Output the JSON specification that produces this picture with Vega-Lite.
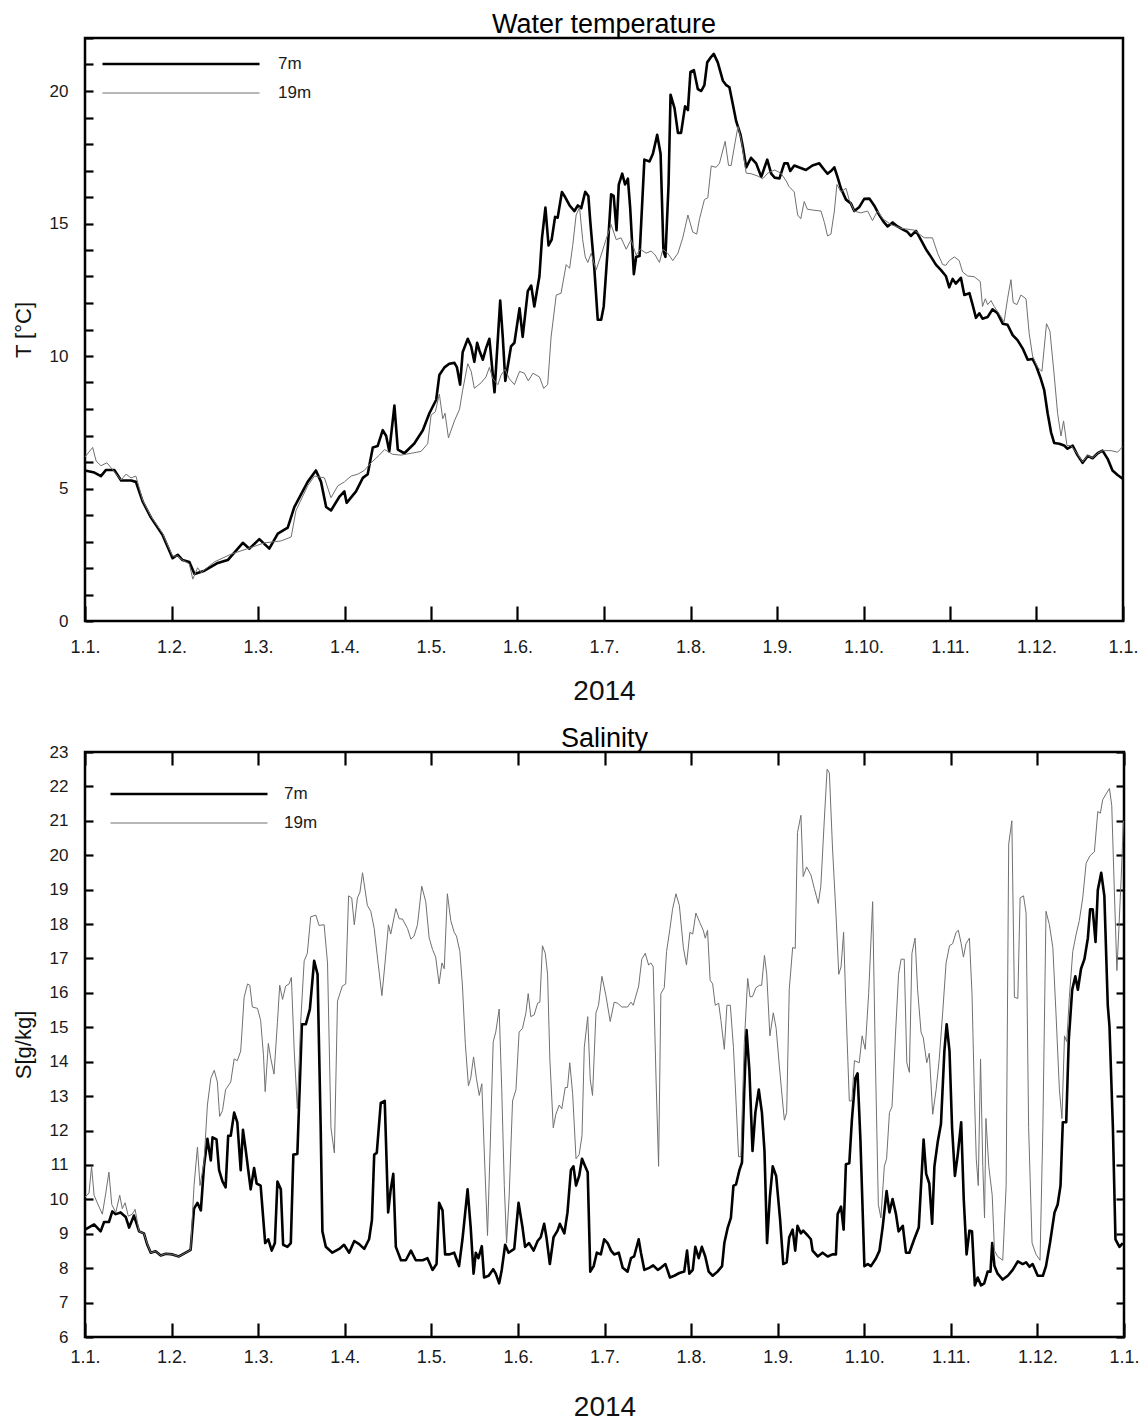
{
  "$schema": "https://vega.github.io/schema/vega-lite/v6.json",
  "background": "white",
  "padding": {"left": 10, "top": 9, "right": 5, "bottom": 0},
  "config": {
    "font": "Liberation Sans",
    "view": {"stroke": "#000", "strokeWidth": 2.5},
    "axis": {
      "grid": false, "domain": false, "ticks": true,
      "tickColor": "#000", "tickWidth": 2.2,
      "labelFont": "Liberation Sans", "labelFontSize": 17, "labelColor": "#1a1a1a",
      "labelFlush": false, "labelOverlap": false,
      "titleFont": "Liberation Sans", "titleFontWeight": "normal", "titleColor": "#111"
    },
    "legend": {
      "title": null, "orient": "none",
      "symbolType": "M-1,0H1", "symbolSize": 24650, "clipHeight": 22, "rowPadding": 7,
      "labelFontSize": 17, "labelColor": "#1a1a1a", "labelFont": "Liberation Sans"
    },
    "concat": {"spacing": 16},
    "line": {"strokeJoin": "round"}
  },
  "datasets": {
    "temperature": [
      {"day":0,"depth":"7m","value":5.68},{"day":3.3,"depth":"7m","value":5.6},{"day":5.6,"depth":"7m","value":5.47},{"day":7.4,"depth":"7m","value":5.7},{"day":10.3,"depth":"7m","value":5.7},{"day":12.7,"depth":"7m","value":5.3},{"day":16.2,"depth":"7m","value":5.3},{"day":17.9,"depth":"7m","value":5.25},{"day":20.3,"depth":"7m","value":4.5},{"day":23.2,"depth":"7m","value":3.9},{"day":27.3,"depth":"7m","value":3.24},{"day":30.8,"depth":"7m","value":2.37},{"day":32.6,"depth":"7m","value":2.5},{"day":34.3,"depth":"7m","value":2.3},{"day":36.7,"depth":"7m","value":2.23},{"day":38.5,"depth":"7m","value":1.77},{"day":42,"depth":"7m","value":1.9},{"day":46.7,"depth":"7m","value":2.19},{"day":50.2,"depth":"7m","value":2.3},{"day":55.5,"depth":"7m","value":2.95},{"day":57.8,"depth":"7m","value":2.73},{"day":61.3,"depth":"7m","value":3.09},{"day":64.8,"depth":"7m","value":2.73},{"day":67.8,"depth":"7m","value":3.3},{"day":71.3,"depth":"7m","value":3.52},{"day":73.6,"depth":"7m","value":4.3},{"day":78.3,"depth":"7m","value":5.25},{"day":81.2,"depth":"7m","value":5.68},{"day":83,"depth":"7m","value":5.25},{"day":84.8,"depth":"7m","value":4.3},{"day":86.5,"depth":"7m","value":4.17},{"day":89.4,"depth":"7m","value":4.68},{"day":91.2,"depth":"7m","value":4.89},{"day":92,"depth":"7m","value":4.46},{"day":95.3,"depth":"7m","value":4.89},{"day":97.7,"depth":"7m","value":5.4},{"day":99.4,"depth":"7m","value":5.54},{"day":101.2,"depth":"7m","value":6.55},{"day":102.9,"depth":"7m","value":6.6},{"day":104.7,"depth":"7m","value":7.2},{"day":105.9,"depth":"7m","value":6.98},{"day":107,"depth":"7m","value":6.4},{"day":108.8,"depth":"7m","value":8.13},{"day":110,"depth":"7m","value":6.47},{"day":112.3,"depth":"7m","value":6.33},{"day":115.8,"depth":"7m","value":6.7},{"day":118.8,"depth":"7m","value":7.2},{"day":121.1,"depth":"7m","value":7.84},{"day":123.5,"depth":"7m","value":8.35},{"day":124.6,"depth":"7m","value":9.28},{"day":126.4,"depth":"7m","value":9.57},{"day":128.1,"depth":"7m","value":9.71},{"day":129.9,"depth":"7m","value":9.74},{"day":130.8,"depth":"7m","value":9.57},{"day":131.9,"depth":"7m","value":8.92},{"day":132.8,"depth":"7m","value":10.14},{"day":134.6,"depth":"7m","value":10.65},{"day":135.8,"depth":"7m","value":10.36},{"day":136.9,"depth":"7m","value":9.78},{"day":137.9,"depth":"7m","value":10.5},{"day":138.7,"depth":"7m","value":10.2},{"day":139.9,"depth":"7m","value":9.86},{"day":141,"depth":"7m","value":10.29},{"day":142.2,"depth":"7m","value":10.65},{"day":144,"depth":"7m","value":8.63},{"day":146,"depth":"7m","value":12.09},{"day":146.9,"depth":"7m","value":10.72},{"day":147.8,"depth":"7m","value":9.06},{"day":149.8,"depth":"7m","value":10.36},{"day":151,"depth":"7m","value":10.5},{"day":152.8,"depth":"7m","value":11.8},{"day":153.9,"depth":"7m","value":10.72},{"day":155.7,"depth":"7m","value":12.45},{"day":156.9,"depth":"7m","value":12.66},{"day":158,"depth":"7m","value":11.87},{"day":159.8,"depth":"7m","value":13.02},{"day":160.7,"depth":"7m","value":14.46},{"day":161.9,"depth":"7m","value":15.6},{"day":163,"depth":"7m","value":14.17},{"day":164.1,"depth":"7m","value":14.39},{"day":165.3,"depth":"7m","value":15.25},{"day":166.2,"depth":"7m","value":15.22},{"day":167.7,"depth":"7m","value":16.19},{"day":168.6,"depth":"7m","value":16.04},{"day":170.4,"depth":"7m","value":15.68},{"day":172.1,"depth":"7m","value":15.47},{"day":173.3,"depth":"7m","value":15.68},{"day":174.5,"depth":"7m","value":15.58},{"day":175.9,"depth":"7m","value":16.2},{"day":177,"depth":"7m","value":16.04},{"day":177.7,"depth":"7m","value":15.04},{"day":179.1,"depth":"7m","value":13.3},{"day":180.3,"depth":"7m","value":11.37},{"day":181.5,"depth":"7m","value":11.37},{"day":182.4,"depth":"7m","value":11.87},{"day":183.8,"depth":"7m","value":14.03},{"day":185,"depth":"7m","value":16.1},{"day":185.9,"depth":"7m","value":16.04},{"day":186.9,"depth":"7m","value":14.75},{"day":187.7,"depth":"7m","value":16.47},{"day":188.9,"depth":"7m","value":16.88},{"day":189.9,"depth":"7m","value":16.47},{"day":190.9,"depth":"7m","value":16.69},{"day":191.7,"depth":"7m","value":15.6},{"day":193,"depth":"7m","value":13.09},{"day":193.8,"depth":"7m","value":13.74},{"day":195,"depth":"7m","value":13.77},{"day":196.7,"depth":"7m","value":17.41},{"day":198.5,"depth":"7m","value":17.34},{"day":199.7,"depth":"7m","value":17.63},{"day":201.2,"depth":"7m","value":18.35},{"day":202.4,"depth":"7m","value":17.63},{"day":203.4,"depth":"7m","value":13.96},{"day":204.1,"depth":"7m","value":13.74},{"day":205.2,"depth":"7m","value":16.47},{"day":205.9,"depth":"7m","value":19.86},{"day":207.3,"depth":"7m","value":19.35},{"day":208.5,"depth":"7m","value":18.42},{"day":209.6,"depth":"7m","value":18.42},{"day":211,"depth":"7m","value":19.42},{"day":212,"depth":"7m","value":19.28},{"day":212.9,"depth":"7m","value":20.72},{"day":214.1,"depth":"7m","value":20.79},{"day":215.5,"depth":"7m","value":20.07},{"day":216.7,"depth":"7m","value":20.0},{"day":217.8,"depth":"7m","value":20.22},{"day":218.8,"depth":"7m","value":21.08},{"day":220.2,"depth":"7m","value":21.29},{"day":221.1,"depth":"7m","value":21.4},{"day":222.5,"depth":"7m","value":21.08},{"day":224.3,"depth":"7m","value":20.39},{"day":225.5,"depth":"7m","value":20.22},{"day":226.6,"depth":"7m","value":20.14},{"day":227.8,"depth":"7m","value":19.5},{"day":229,"depth":"7m","value":18.85},{"day":230.5,"depth":"7m","value":18.35},{"day":231.3,"depth":"7m","value":17.91},{"day":232.5,"depth":"7m","value":17.12},{"day":234.2,"depth":"7m","value":17.48},{"day":236,"depth":"7m","value":17.27},{"day":237.8,"depth":"7m","value":16.76},{"day":239.9,"depth":"7m","value":17.41},{"day":241.3,"depth":"7m","value":16.88},{"day":242.5,"depth":"7m","value":16.73},{"day":244.2,"depth":"7m","value":16.7},{"day":245.9,"depth":"7m","value":17.27},{"day":247.1,"depth":"7m","value":17.27},{"day":248,"depth":"7m","value":16.98},{"day":249.4,"depth":"7m","value":17.19},{"day":251,"depth":"7m","value":17.12},{"day":253.5,"depth":"7m","value":17.02},{"day":255.8,"depth":"7m","value":17.19},{"day":258.2,"depth":"7m","value":17.27},{"day":260,"depth":"7m","value":17.02},{"day":261.1,"depth":"7m","value":16.88},{"day":262.3,"depth":"7m","value":16.98},{"day":263.5,"depth":"7m","value":17.12},{"day":264.6,"depth":"7m","value":16.76},{"day":265.8,"depth":"7m","value":16.33},{"day":267.6,"depth":"7m","value":15.9},{"day":269.3,"depth":"7m","value":15.76},{"day":270.5,"depth":"7m","value":15.47},{"day":272.2,"depth":"7m","value":15.61},{"day":274,"depth":"7m","value":15.93},{"day":275.8,"depth":"7m","value":15.94},{"day":277.5,"depth":"7m","value":15.68},{"day":279.3,"depth":"7m","value":15.32},{"day":281,"depth":"7m","value":15.04},{"day":282.2,"depth":"7m","value":14.89},{"day":284,"depth":"7m","value":15.04},{"day":285.7,"depth":"7m","value":14.89},{"day":287.5,"depth":"7m","value":14.78},{"day":289.2,"depth":"7m","value":14.68},{"day":290.4,"depth":"7m","value":14.53},{"day":292.2,"depth":"7m","value":14.72},{"day":293.9,"depth":"7m","value":14.39},{"day":295.7,"depth":"7m","value":14.03},{"day":297.5,"depth":"7m","value":13.74},{"day":299.2,"depth":"7m","value":13.45},{"day":301,"depth":"7m","value":13.24},{"day":302.7,"depth":"7m","value":13.02},{"day":303.9,"depth":"7m","value":12.59},{"day":305.1,"depth":"7m","value":12.91},{"day":306.2,"depth":"7m","value":12.73},{"day":308,"depth":"7m","value":12.95},{"day":309.2,"depth":"7m","value":12.3},{"day":311,"depth":"7m","value":12.37},{"day":312.1,"depth":"7m","value":11.94},{"day":313.3,"depth":"7m","value":11.44},{"day":314.5,"depth":"7m","value":11.61},{"day":315.6,"depth":"7m","value":11.41},{"day":317.4,"depth":"7m","value":11.47},{"day":319.1,"depth":"7m","value":11.76},{"day":320.9,"depth":"7m","value":11.61},{"day":322.7,"depth":"7m","value":11.22},{"day":324.4,"depth":"7m","value":11.18},{"day":326.2,"depth":"7m","value":10.79},{"day":327.9,"depth":"7m","value":10.6},{"day":329.7,"depth":"7m","value":10.29},{"day":331.5,"depth":"7m","value":9.86},{"day":333.2,"depth":"7m","value":9.89},{"day":334.4,"depth":"7m","value":9.64},{"day":336.1,"depth":"7m","value":9.14},{"day":337.3,"depth":"7m","value":8.71},{"day":338.5,"depth":"7m","value":7.84},{"day":339.7,"depth":"7m","value":7.12},{"day":340.8,"depth":"7m","value":6.72},{"day":342.6,"depth":"7m","value":6.69},{"day":344.3,"depth":"7m","value":6.62},{"day":345.5,"depth":"7m","value":6.5},{"day":347.3,"depth":"7m","value":6.62},{"day":349,"depth":"7m","value":6.26},{"day":350.8,"depth":"7m","value":5.97},{"day":352.6,"depth":"7m","value":6.23},{"day":354.3,"depth":"7m","value":6.14},{"day":356.1,"depth":"7m","value":6.33},{"day":357.8,"depth":"7m","value":6.43},{"day":359.6,"depth":"7m","value":6.12},{"day":361.3,"depth":"7m","value":5.68},{"day":363.1,"depth":"7m","value":5.51},{"day":364.9,"depth":"7m","value":5.37},
      {"day":0,"depth":"19m","value":6.19},{"day":2.7,"depth":"19m","value":6.55},{"day":3.9,"depth":"19m","value":6.04},{"day":5.6,"depth":"19m","value":5.86},{"day":7.7,"depth":"19m","value":5.97},{"day":9.7,"depth":"19m","value":5.71},{"day":12.7,"depth":"19m","value":5.32},{"day":14.4,"depth":"19m","value":5.54},{"day":16.2,"depth":"19m","value":5.4},{"day":17.9,"depth":"19m","value":5.47},{"day":20.3,"depth":"19m","value":4.55},{"day":23.2,"depth":"19m","value":3.95},{"day":27.3,"depth":"19m","value":3.3},{"day":30.8,"depth":"19m","value":2.45},{"day":32.6,"depth":"19m","value":2.45},{"day":34.3,"depth":"19m","value":2.3},{"day":36.7,"depth":"19m","value":2.15},{"day":37.9,"depth":"19m","value":1.58},{"day":39.6,"depth":"19m","value":2.01},{"day":40.8,"depth":"19m","value":1.83},{"day":45.5,"depth":"19m","value":2.23},{"day":51.3,"depth":"19m","value":2.52},{"day":57.2,"depth":"19m","value":2.73},{"day":63.1,"depth":"19m","value":2.95},{"day":68.9,"depth":"19m","value":3.02},{"day":72.5,"depth":"19m","value":3.17},{"day":74.2,"depth":"19m","value":4.17},{"day":78.3,"depth":"19m","value":5.1},{"day":80.7,"depth":"19m","value":5.47},{"day":84.2,"depth":"19m","value":5.4},{"day":86.5,"depth":"19m","value":4.65},{"day":88.9,"depth":"19m","value":5.1},{"day":91.2,"depth":"19m","value":5.25},{"day":93.6,"depth":"19m","value":5.47},{"day":95.9,"depth":"19m","value":5.54},{"day":98.2,"depth":"19m","value":5.68},{"day":100.6,"depth":"19m","value":5.97},{"day":103.5,"depth":"19m","value":6.26},{"day":105.3,"depth":"19m","value":6.47},{"day":108.2,"depth":"19m","value":6.29},{"day":111.1,"depth":"19m","value":6.26},{"day":114.7,"depth":"19m","value":6.33},{"day":118.2,"depth":"19m","value":6.4},{"day":120.5,"depth":"19m","value":6.69},{"day":121.7,"depth":"19m","value":7.77},{"day":123.2,"depth":"19m","value":7.9},{"day":124.6,"depth":"19m","value":8.56},{"day":125.8,"depth":"19m","value":7.63},{"day":126.6,"depth":"19m","value":7.84},{"day":127.8,"depth":"19m","value":6.91},{"day":129.9,"depth":"19m","value":7.55},{"day":131.7,"depth":"19m","value":7.99},{"day":132.8,"depth":"19m","value":8.71},{"day":134.6,"depth":"19m","value":9.71},{"day":135.8,"depth":"19m","value":9.42},{"day":136.9,"depth":"19m","value":8.78},{"day":139.3,"depth":"19m","value":8.99},{"day":141,"depth":"19m","value":9.21},{"day":142.2,"depth":"19m","value":9.57},{"day":143.4,"depth":"19m","value":9.14},{"day":145.2,"depth":"19m","value":8.92},{"day":146.3,"depth":"19m","value":9.28},{"day":147.7,"depth":"19m","value":9.5},{"day":149.2,"depth":"19m","value":9.14},{"day":151,"depth":"19m","value":8.92},{"day":152.8,"depth":"19m","value":9.42},{"day":154.5,"depth":"19m","value":9.35},{"day":155.9,"depth":"19m","value":9.06},{"day":157.5,"depth":"19m","value":9.35},{"day":159.8,"depth":"19m","value":9.21},{"day":161.3,"depth":"19m","value":8.78},{"day":162.7,"depth":"19m","value":8.92},{"day":163.9,"depth":"19m","value":10.72},{"day":165.7,"depth":"19m","value":12.3},{"day":167.4,"depth":"19m","value":12.37},{"day":169.2,"depth":"19m","value":13.45},{"day":170.4,"depth":"19m","value":13.31},{"day":171.5,"depth":"19m","value":14.17},{"day":172.7,"depth":"19m","value":15.32},{"day":173.9,"depth":"19m","value":15.61},{"day":175,"depth":"19m","value":14.39},{"day":175.9,"depth":"19m","value":13.74},{"day":176.8,"depth":"19m","value":13.53},{"day":178,"depth":"19m","value":13.88},{"day":179.7,"depth":"19m","value":13.24},{"day":181.5,"depth":"19m","value":13.81},{"day":183.2,"depth":"19m","value":14.39},{"day":185,"depth":"19m","value":14.96},{"day":186.8,"depth":"19m","value":14.39},{"day":188.5,"depth":"19m","value":14.46},{"day":190.3,"depth":"19m","value":14.03},{"day":192,"depth":"19m","value":14.39},{"day":193.8,"depth":"19m","value":13.81},{"day":195.3,"depth":"19m","value":14.03},{"day":197.3,"depth":"19m","value":13.88},{"day":199.1,"depth":"19m","value":13.96},{"day":200.5,"depth":"19m","value":13.81},{"day":202,"depth":"19m","value":13.53},{"day":203.2,"depth":"19m","value":14.03},{"day":204.9,"depth":"19m","value":13.88},{"day":206.7,"depth":"19m","value":13.6},{"day":208.5,"depth":"19m","value":13.88},{"day":210.2,"depth":"19m","value":14.46},{"day":212,"depth":"19m","value":15.32},{"day":213.7,"depth":"19m","value":14.68},{"day":215.1,"depth":"19m","value":14.6},{"day":216.1,"depth":"19m","value":15.18},{"day":217.8,"depth":"19m","value":15.9},{"day":219,"depth":"19m","value":15.97},{"day":220.2,"depth":"19m","value":17.17},{"day":221.9,"depth":"19m","value":17.12},{"day":223.1,"depth":"19m","value":17.27},{"day":225.1,"depth":"19m","value":18.1},{"day":226.3,"depth":"19m","value":17.19},{"day":227.2,"depth":"19m","value":17.19},{"day":228.6,"depth":"19m","value":18.06},{"day":229.6,"depth":"19m","value":18.66},{"day":230.7,"depth":"19m","value":18.2},{"day":232.5,"depth":"19m","value":16.9},{"day":234.2,"depth":"19m","value":16.88},{"day":236.6,"depth":"19m","value":16.79},{"day":238.3,"depth":"19m","value":16.69},{"day":240.1,"depth":"19m","value":16.9},{"day":242.5,"depth":"19m","value":17.02},{"day":244.7,"depth":"19m","value":16.9},{"day":246.6,"depth":"19m","value":16.6},{"day":247.5,"depth":"19m","value":16.4},{"day":249.4,"depth":"19m","value":16.19},{"day":250.6,"depth":"19m","value":15.32},{"day":251.7,"depth":"19m","value":15.18},{"day":252.9,"depth":"19m","value":15.83},{"day":254,"depth":"19m","value":15.54},{"day":256.4,"depth":"19m","value":15.5},{"day":258.8,"depth":"19m","value":15.47},{"day":260,"depth":"19m","value":15.04},{"day":261.1,"depth":"19m","value":14.53},{"day":262.3,"depth":"19m","value":14.6},{"day":263.5,"depth":"19m","value":15.47},{"day":264.4,"depth":"19m","value":16.47},{"day":265.8,"depth":"19m","value":16.19},{"day":267.6,"depth":"19m","value":16.33},{"day":268.7,"depth":"19m","value":15.9},{"day":270.5,"depth":"19m","value":15.47},{"day":272.8,"depth":"19m","value":15.4},{"day":275.2,"depth":"19m","value":15.47},{"day":276.9,"depth":"19m","value":15.11},{"day":278.7,"depth":"19m","value":15.47},{"day":280.5,"depth":"19m","value":15.18},{"day":283.4,"depth":"19m","value":14.96},{"day":286.9,"depth":"19m","value":14.82},{"day":291.6,"depth":"19m","value":14.75},{"day":295.1,"depth":"19m","value":14.46},{"day":298,"depth":"19m","value":14.46},{"day":299.8,"depth":"19m","value":13.88},{"day":301.6,"depth":"19m","value":13.45},{"day":302.7,"depth":"19m","value":13.42},{"day":303.9,"depth":"19m","value":13.6},{"day":305.7,"depth":"19m","value":13.74},{"day":307.4,"depth":"19m","value":13.6},{"day":308.6,"depth":"19m","value":13.17},{"day":310.4,"depth":"19m","value":13.02},{"day":312.7,"depth":"19m","value":12.99},{"day":314.8,"depth":"19m","value":12.81},{"day":315.6,"depth":"19m","value":11.87},{"day":316.6,"depth":"19m","value":12.16},{"day":317.4,"depth":"19m","value":11.94},{"day":318.6,"depth":"19m","value":12.09},{"day":319.7,"depth":"19m","value":11.87},{"day":321.5,"depth":"19m","value":11.58},{"day":323.2,"depth":"19m","value":11.29},{"day":324.4,"depth":"19m","value":12.16},{"day":325.6,"depth":"19m","value":12.88},{"day":326.4,"depth":"19m","value":12.01},{"day":327.7,"depth":"19m","value":11.94},{"day":329.1,"depth":"19m","value":12.3},{"day":330.9,"depth":"19m","value":12.16},{"day":332,"depth":"19m","value":10.86},{"day":333.2,"depth":"19m","value":10.0},{"day":335,"depth":"19m","value":9.57},{"day":336.5,"depth":"19m","value":9.42},{"day":338.1,"depth":"19m","value":11.22},{"day":339.3,"depth":"19m","value":10.94},{"day":340.8,"depth":"19m","value":9.28},{"day":342,"depth":"19m","value":7.84},{"day":343.2,"depth":"19m","value":6.98},{"day":344.1,"depth":"19m","value":7.55},{"day":345.3,"depth":"19m","value":6.62},{"day":346.7,"depth":"19m","value":6.62},{"day":349,"depth":"19m","value":6.3},{"day":350.8,"depth":"19m","value":6.0},{"day":352.6,"depth":"19m","value":6.25},{"day":354.3,"depth":"19m","value":6.15},{"day":356.1,"depth":"19m","value":6.33},{"day":357.8,"depth":"19m","value":6.43},{"day":360.8,"depth":"19m","value":6.43},{"day":363.1,"depth":"19m","value":6.37},{"day":364.9,"depth":"19m","value":6.58}
    ],
    "salinity": [
      {"day":0,"depth":"7m","value":9.12},{"day":3.2,"depth":"7m","value":9.27},{"day":5.5,"depth":"7m","value":9.07},{"day":6.7,"depth":"7m","value":9.34},{"day":8.4,"depth":"7m","value":9.34},{"day":9.6,"depth":"7m","value":9.65},{"day":10.8,"depth":"7m","value":9.57},{"day":12.5,"depth":"7m","value":9.62},{"day":14.3,"depth":"7m","value":9.49},{"day":15.5,"depth":"7m","value":9.18},{"day":17.2,"depth":"7m","value":9.53},{"day":19,"depth":"7m","value":9.07},{"day":20.7,"depth":"7m","value":9.01},{"day":21.9,"depth":"7m","value":8.68},{"day":23.1,"depth":"7m","value":8.45},{"day":24.8,"depth":"7m","value":8.49},{"day":26.6,"depth":"7m","value":8.37},{"day":28.4,"depth":"7m","value":8.42},{"day":30.7,"depth":"7m","value":8.4},{"day":33,"depth":"7m","value":8.34},{"day":35.4,"depth":"7m","value":8.45},{"day":37.1,"depth":"7m","value":8.53},{"day":38.3,"depth":"7m","value":9.73},{"day":39.5,"depth":"7m","value":9.9},{"day":40.7,"depth":"7m","value":9.68},{"day":41.8,"depth":"7m","value":10.96},{"day":43,"depth":"7m","value":11.76},{"day":44.2,"depth":"7m","value":11.13},{"day":44.8,"depth":"7m","value":11.8},{"day":46.2,"depth":"7m","value":11.74},{"day":47.1,"depth":"7m","value":10.85},{"day":48.3,"depth":"7m","value":10.52},{"day":49.4,"depth":"7m","value":10.35},{"day":50.3,"depth":"7m","value":11.85},{"day":51.2,"depth":"7m","value":11.85},{"day":52.4,"depth":"7m","value":12.52},{"day":53.5,"depth":"7m","value":12.24},{"day":54.7,"depth":"7m","value":10.85},{"day":55.5,"depth":"7m","value":12.02},{"day":56.5,"depth":"7m","value":11.41},{"day":58.2,"depth":"7m","value":10.29},{"day":59.4,"depth":"7m","value":10.91},{"day":60.3,"depth":"7m","value":10.46},{"day":61.7,"depth":"7m","value":10.4},{"day":63.3,"depth":"7m","value":8.73},{"day":64.4,"depth":"7m","value":8.84},{"day":65.6,"depth":"7m","value":8.51},{"day":66.7,"depth":"7m","value":8.73},{"day":67.6,"depth":"7m","value":10.52},{"day":68.8,"depth":"7m","value":10.29},{"day":69.6,"depth":"7m","value":8.68},{"day":71.1,"depth":"7m","value":8.62},{"day":72.3,"depth":"7m","value":8.73},{"day":73.2,"depth":"7m","value":11.3},{"day":74.6,"depth":"7m","value":11.32},{"day":76.2,"depth":"7m","value":15.09},{"day":77.6,"depth":"7m","value":15.09},{"day":79,"depth":"7m","value":15.53},{"day":80.5,"depth":"7m","value":16.93},{"day":81.7,"depth":"7m","value":16.54},{"day":82.8,"depth":"7m","value":12.08},{"day":83.4,"depth":"7m","value":9.07},{"day":84.6,"depth":"7m","value":8.62},{"day":86.9,"depth":"7m","value":8.45},{"day":89.3,"depth":"7m","value":8.56},{"day":91,"depth":"7m","value":8.68},{"day":92.8,"depth":"7m","value":8.45},{"day":94.6,"depth":"7m","value":8.79},{"day":96.3,"depth":"7m","value":8.7},{"day":98.1,"depth":"7m","value":8.56},{"day":99.8,"depth":"7m","value":8.84},{"day":100.8,"depth":"7m","value":9.4},{"day":101.6,"depth":"7m","value":11.3},{"day":102.5,"depth":"7m","value":11.35},{"day":103.9,"depth":"7m","value":12.8},{"day":105.3,"depth":"7m","value":12.86},{"day":106.5,"depth":"7m","value":9.62},{"day":107.4,"depth":"7m","value":10.29},{"day":108.3,"depth":"7m","value":10.74},{"day":109.2,"depth":"7m","value":8.62},{"day":111,"depth":"7m","value":8.23},{"day":112.7,"depth":"7m","value":8.23},{"day":114.5,"depth":"7m","value":8.51},{"day":116.2,"depth":"7m","value":8.23},{"day":118.6,"depth":"7m","value":8.23},{"day":120.3,"depth":"7m","value":8.29},{"day":122.1,"depth":"7m","value":7.95},{"day":123.5,"depth":"7m","value":8.12},{"day":124.4,"depth":"7m","value":9.9},{"day":125.6,"depth":"7m","value":9.68},{"day":126.5,"depth":"7m","value":8.4},{"day":127.9,"depth":"7m","value":8.4},{"day":129.7,"depth":"7m","value":8.45},{"day":131.4,"depth":"7m","value":8.06},{"day":132.6,"depth":"7m","value":8.84},{"day":134.4,"depth":"7m","value":10.29},{"day":135.5,"depth":"7m","value":9.18},{"day":136.5,"depth":"7m","value":7.84},{"day":137.3,"depth":"7m","value":8.45},{"day":138.2,"depth":"7m","value":8.29},{"day":139.4,"depth":"7m","value":8.64},{"day":140.2,"depth":"7m","value":7.73},{"day":141.8,"depth":"7m","value":7.78},{"day":143.4,"depth":"7m","value":7.97},{"day":144.3,"depth":"7m","value":7.84},{"day":145.5,"depth":"7m","value":7.56},{"day":146.4,"depth":"7m","value":7.95},{"day":147.6,"depth":"7m","value":8.68},{"day":148.8,"depth":"7m","value":8.45},{"day":150.8,"depth":"7m","value":8.56},{"day":152.3,"depth":"7m","value":9.9},{"day":153.7,"depth":"7m","value":9.18},{"day":154.6,"depth":"7m","value":8.62},{"day":156,"depth":"7m","value":8.73},{"day":157.6,"depth":"7m","value":8.51},{"day":159,"depth":"7m","value":8.79},{"day":160.1,"depth":"7m","value":8.9},{"day":161.3,"depth":"7m","value":9.29},{"day":162.1,"depth":"7m","value":8.9},{"day":163.3,"depth":"7m","value":8.12},{"day":164.6,"depth":"7m","value":8.9},{"day":166,"depth":"7m","value":9.09},{"day":166.8,"depth":"7m","value":9.29},{"day":168.4,"depth":"7m","value":9.01},{"day":169.5,"depth":"7m","value":9.62},{"day":170.7,"depth":"7m","value":10.85},{"day":171.6,"depth":"7m","value":10.96},{"day":172.5,"depth":"7m","value":10.4},{"day":173.6,"depth":"7m","value":10.68},{"day":174.6,"depth":"7m","value":11.18},{"day":175.4,"depth":"7m","value":11.02},{"day":176.6,"depth":"7m","value":10.79},{"day":177.5,"depth":"7m","value":7.9},{"day":178.7,"depth":"7m","value":8.06},{"day":179.8,"depth":"7m","value":8.45},{"day":181.2,"depth":"7m","value":8.4},{"day":182.4,"depth":"7m","value":8.84},{"day":183.6,"depth":"7m","value":8.73},{"day":184.8,"depth":"7m","value":8.51},{"day":185.9,"depth":"7m","value":8.4},{"day":187.5,"depth":"7m","value":8.45},{"day":188.9,"depth":"7m","value":8.01},{"day":190.6,"depth":"7m","value":7.9},{"day":191.8,"depth":"7m","value":8.29},{"day":192.9,"depth":"7m","value":8.34},{"day":194.5,"depth":"7m","value":8.84},{"day":195.3,"depth":"7m","value":8.45},{"day":196.5,"depth":"7m","value":7.95},{"day":198.2,"depth":"7m","value":8.01},{"day":199.6,"depth":"7m","value":8.08},{"day":201.2,"depth":"7m","value":7.95},{"day":202.3,"depth":"7m","value":8.01},{"day":203.9,"depth":"7m","value":8.12},{"day":205.5,"depth":"7m","value":7.73},{"day":207,"depth":"7m","value":7.78},{"day":208.8,"depth":"7m","value":7.86},{"day":210.5,"depth":"7m","value":7.9},{"day":211.5,"depth":"7m","value":8.51},{"day":212.3,"depth":"7m","value":7.84},{"day":213.5,"depth":"7m","value":7.95},{"day":214.4,"depth":"7m","value":8.62},{"day":215.6,"depth":"7m","value":8.29},{"day":216.7,"depth":"7m","value":8.62},{"day":217.9,"depth":"7m","value":8.34},{"day":219.1,"depth":"7m","value":7.9},{"day":220.5,"depth":"7m","value":7.78},{"day":222.2,"depth":"7m","value":7.9},{"day":223.8,"depth":"7m","value":8.06},{"day":224.6,"depth":"7m","value":8.73},{"day":225.8,"depth":"7m","value":9.18},{"day":226.9,"depth":"7m","value":9.46},{"day":227.8,"depth":"7m","value":10.4},{"day":228.7,"depth":"7m","value":10.43},{"day":229.9,"depth":"7m","value":10.85},{"day":230.8,"depth":"7m","value":11.07},{"day":231.6,"depth":"7m","value":13.19},{"day":232.4,"depth":"7m","value":14.92},{"day":233.4,"depth":"7m","value":13.75},{"day":234.5,"depth":"7m","value":11.41},{"day":235.5,"depth":"7m","value":12.52},{"day":236.7,"depth":"7m","value":13.19},{"day":237.8,"depth":"7m","value":12.52},{"day":238.7,"depth":"7m","value":11.41},{"day":239.6,"depth":"7m","value":8.73},{"day":240.6,"depth":"7m","value":10.07},{"day":241.6,"depth":"7m","value":10.96},{"day":242.8,"depth":"7m","value":10.68},{"day":244.2,"depth":"7m","value":9.4},{"day":245.3,"depth":"7m","value":8.12},{"day":246.5,"depth":"7m","value":8.17},{"day":247.4,"depth":"7m","value":8.9},{"day":248.6,"depth":"7m","value":9.12},{"day":249.5,"depth":"7m","value":8.51},{"day":250.3,"depth":"7m","value":9.23},{"day":251.5,"depth":"7m","value":9.01},{"day":252.3,"depth":"7m","value":9.09},{"day":253.9,"depth":"7m","value":8.95},{"day":255,"depth":"7m","value":8.84},{"day":255.6,"depth":"7m","value":8.51},{"day":257.4,"depth":"7m","value":8.34},{"day":259.1,"depth":"7m","value":8.45},{"day":260.9,"depth":"7m","value":8.34},{"day":262.6,"depth":"7m","value":8.4},{"day":263.8,"depth":"7m","value":8.4},{"day":264.4,"depth":"7m","value":9.57},{"day":265.6,"depth":"7m","value":9.79},{"day":266.5,"depth":"7m","value":9.12},{"day":267.3,"depth":"7m","value":11.02},{"day":268.5,"depth":"7m","value":11.05},{"day":269.4,"depth":"7m","value":12.3},{"day":270.6,"depth":"7m","value":13.52},{"day":271.4,"depth":"7m","value":13.66},{"day":272.4,"depth":"7m","value":11.74},{"day":273.8,"depth":"7m","value":8.06},{"day":275,"depth":"7m","value":8.12},{"day":276.1,"depth":"7m","value":8.06},{"day":277.9,"depth":"7m","value":8.29},{"day":279.1,"depth":"7m","value":8.51},{"day":280.2,"depth":"7m","value":9.18},{"day":281.6,"depth":"7m","value":10.24},{"day":282.6,"depth":"7m","value":9.62},{"day":283.7,"depth":"7m","value":10.01},{"day":284.9,"depth":"7m","value":9.57},{"day":285.8,"depth":"7m","value":9.07},{"day":287.3,"depth":"7m","value":9.23},{"day":288.4,"depth":"7m","value":8.45},{"day":289.6,"depth":"7m","value":8.45},{"day":291.3,"depth":"7m","value":8.84},{"day":292.9,"depth":"7m","value":9.18},{"day":293.7,"depth":"7m","value":10.4},{"day":294.6,"depth":"7m","value":11.74},{"day":295.5,"depth":"7m","value":10.74},{"day":296.6,"depth":"7m","value":10.46},{"day":297.6,"depth":"7m","value":9.29},{"day":298.4,"depth":"7m","value":10.96},{"day":299.6,"depth":"7m","value":11.69},{"day":300.7,"depth":"7m","value":12.19},{"day":301.9,"depth":"7m","value":14.31},{"day":302.7,"depth":"7m","value":15.09},{"day":303.7,"depth":"7m","value":14.31},{"day":304.6,"depth":"7m","value":12.08},{"day":305.6,"depth":"7m","value":10.68},{"day":306.6,"depth":"7m","value":11.3},{"day":307.8,"depth":"7m","value":12.24},{"day":308.7,"depth":"7m","value":10.01},{"day":309.7,"depth":"7m","value":8.4},{"day":310.7,"depth":"7m","value":9.09},{"day":311.6,"depth":"7m","value":9.07},{"day":312.6,"depth":"7m","value":7.5},{"day":313.6,"depth":"7m","value":7.73},{"day":314.8,"depth":"7m","value":7.5},{"day":315.9,"depth":"7m","value":7.56},{"day":317.1,"depth":"7m","value":7.9},{"day":318.1,"depth":"7m","value":7.9},{"day":318.7,"depth":"7m","value":8.73},{"day":319.5,"depth":"7m","value":8.06},{"day":320.6,"depth":"7m","value":7.84},{"day":322.4,"depth":"7m","value":7.67},{"day":324.2,"depth":"7m","value":7.78},{"day":325.9,"depth":"7m","value":7.95},{"day":327.7,"depth":"7m","value":8.2},{"day":329.4,"depth":"7m","value":8.12},{"day":330.6,"depth":"7m","value":8.17},{"day":331.8,"depth":"7m","value":8.04},{"day":332.9,"depth":"7m","value":8.12},{"day":334.7,"depth":"7m","value":7.78},{"day":336.5,"depth":"7m","value":7.78},{"day":337.6,"depth":"7m","value":8.06},{"day":339,"depth":"7m","value":8.73},{"day":340.6,"depth":"7m","value":9.62},{"day":341.7,"depth":"7m","value":9.85},{"day":342.7,"depth":"7m","value":10.4},{"day":343.5,"depth":"7m","value":12.24},{"day":344.7,"depth":"7m","value":12.24},{"day":345.6,"depth":"7m","value":14.64},{"day":346.8,"depth":"7m","value":16.09},{"day":347.9,"depth":"7m","value":16.48},{"day":348.8,"depth":"7m","value":16.09},{"day":349.9,"depth":"7m","value":16.7},{"day":351.1,"depth":"7m","value":16.98},{"day":352.3,"depth":"7m","value":17.59},{"day":353.1,"depth":"7m","value":18.43},{"day":354,"depth":"7m","value":18.43},{"day":355,"depth":"7m","value":17.48},{"day":355.8,"depth":"7m","value":18.99},{"day":357,"depth":"7m","value":19.49},{"day":358.1,"depth":"7m","value":18.82},{"day":359.3,"depth":"7m","value":15.64},{"day":359.9,"depth":"7m","value":15.03},{"day":361.1,"depth":"7m","value":12.08},{"day":362,"depth":"7m","value":8.84},{"day":363.4,"depth":"7m","value":8.62},{"day":364.6,"depth":"7m","value":8.73},
      {"day":0,"depth":"19m","value":10.07},{"day":1.4,"depth":"19m","value":10.18},{"day":2.3,"depth":"19m","value":10.96},{"day":3.2,"depth":"19m","value":10.12},{"day":4.3,"depth":"19m","value":9.9},{"day":6.1,"depth":"19m","value":9.57},{"day":7.3,"depth":"19m","value":10.18},{"day":8.4,"depth":"19m","value":10.79},{"day":9.4,"depth":"19m","value":9.85},{"day":10.8,"depth":"19m","value":9.62},{"day":12.2,"depth":"19m","value":10.12},{"day":13.1,"depth":"19m","value":9.73},{"day":14.1,"depth":"19m","value":9.9},{"day":15.2,"depth":"19m","value":9.51},{"day":16.6,"depth":"19m","value":9.57},{"day":17.6,"depth":"19m","value":9.71},{"day":19,"depth":"19m","value":9.07},{"day":20.7,"depth":"19m","value":9.01},{"day":21.9,"depth":"19m","value":8.7},{"day":23.1,"depth":"19m","value":8.45},{"day":24.8,"depth":"19m","value":8.49},{"day":26.6,"depth":"19m","value":8.37},{"day":28.4,"depth":"19m","value":8.42},{"day":30.7,"depth":"19m","value":8.4},{"day":33,"depth":"19m","value":8.34},{"day":35.4,"depth":"19m","value":8.45},{"day":37.1,"depth":"19m","value":8.53},{"day":38.3,"depth":"19m","value":10.4},{"day":39.5,"depth":"19m","value":11.52},{"day":40.4,"depth":"19m","value":10.4},{"day":41.8,"depth":"19m","value":11.07},{"day":43,"depth":"19m","value":12.74},{"day":44.2,"depth":"19m","value":13.52},{"day":45.4,"depth":"19m","value":13.75},{"day":46.5,"depth":"19m","value":13.41},{"day":47.3,"depth":"19m","value":12.41},{"day":48.3,"depth":"19m","value":12.58},{"day":49.4,"depth":"19m","value":13.19},{"day":51.2,"depth":"19m","value":13.41},{"day":52.4,"depth":"19m","value":14.08},{"day":53.5,"depth":"19m","value":14.03},{"day":54.7,"depth":"19m","value":14.31},{"day":55.9,"depth":"19m","value":15.87},{"day":57.1,"depth":"19m","value":16.26},{"day":57.9,"depth":"19m","value":16.22},{"day":58.8,"depth":"19m","value":15.59},{"day":60.6,"depth":"19m","value":15.55},{"day":61.7,"depth":"19m","value":15.2},{"day":62.7,"depth":"19m","value":14.19},{"day":63.3,"depth":"19m","value":13.13},{"day":64.4,"depth":"19m","value":14.53},{"day":65.3,"depth":"19m","value":14.08},{"day":66.4,"depth":"19m","value":13.64},{"day":67.6,"depth":"19m","value":15.14},{"day":68.4,"depth":"19m","value":16.22},{"day":69.4,"depth":"19m","value":15.81},{"day":70.5,"depth":"19m","value":16.2},{"day":71.7,"depth":"19m","value":16.26},{"day":72.5,"depth":"19m","value":16.45},{"day":73.5,"depth":"19m","value":14.31},{"day":74.6,"depth":"19m","value":12.63},{"day":75.8,"depth":"19m","value":15.2},{"day":77,"depth":"19m","value":16.93},{"day":78.1,"depth":"19m","value":17.15},{"day":79.3,"depth":"19m","value":18.21},{"day":81.1,"depth":"19m","value":18.26},{"day":82.2,"depth":"19m","value":17.96},{"day":84,"depth":"19m","value":17.98},{"day":85.2,"depth":"19m","value":16.87},{"day":86.4,"depth":"19m","value":12.08},{"day":87.6,"depth":"19m","value":11.35},{"day":88.7,"depth":"19m","value":15.76},{"day":90.4,"depth":"19m","value":16.2},{"day":91.6,"depth":"19m","value":16.26},{"day":92.6,"depth":"19m","value":18.82},{"day":93.7,"depth":"19m","value":18.76},{"day":94.6,"depth":"19m","value":17.98},{"day":95.7,"depth":"19m","value":18.76},{"day":96.6,"depth":"19m","value":18.93},{"day":97.5,"depth":"19m","value":19.49},{"day":99.2,"depth":"19m","value":18.54},{"day":100.4,"depth":"19m","value":18.37},{"day":101.6,"depth":"19m","value":17.87},{"day":102.8,"depth":"19m","value":16.98},{"day":104.3,"depth":"19m","value":15.92},{"day":105.4,"depth":"19m","value":16.87},{"day":106.6,"depth":"19m","value":17.98},{"day":107.4,"depth":"19m","value":17.71},{"day":109.2,"depth":"19m","value":18.45},{"day":110.4,"depth":"19m","value":18.15},{"day":111.5,"depth":"19m","value":18.15},{"day":113.3,"depth":"19m","value":17.87},{"day":114.5,"depth":"19m","value":17.56},{"day":115.6,"depth":"19m","value":17.65},{"day":116.8,"depth":"19m","value":17.98},{"day":118.3,"depth":"19m","value":19.1},{"day":119.7,"depth":"19m","value":18.65},{"day":120.9,"depth":"19m","value":17.6},{"day":122.1,"depth":"19m","value":17.26},{"day":123.2,"depth":"19m","value":17.04},{"day":124.4,"depth":"19m","value":16.26},{"day":125.4,"depth":"19m","value":16.87},{"day":126.2,"depth":"19m","value":16.7},{"day":127.3,"depth":"19m","value":18.88},{"day":128.5,"depth":"19m","value":18.1},{"day":129.7,"depth":"19m","value":17.76},{"day":130.5,"depth":"19m","value":17.65},{"day":131.7,"depth":"19m","value":17.2},{"day":132.6,"depth":"19m","value":16.2},{"day":133.6,"depth":"19m","value":14.53},{"day":134.7,"depth":"19m","value":13.3},{"day":135.5,"depth":"19m","value":13.52},{"day":136.5,"depth":"19m","value":14.14},{"day":137.5,"depth":"19m","value":13.52},{"day":138.5,"depth":"19m","value":13.02},{"day":139.4,"depth":"19m","value":13.36},{"day":140.2,"depth":"19m","value":11.52},{"day":141.4,"depth":"19m","value":8.95},{"day":142.3,"depth":"19m","value":11.41},{"day":143.4,"depth":"19m","value":14.58},{"day":144.3,"depth":"19m","value":14.86},{"day":145.5,"depth":"19m","value":15.53},{"day":146.4,"depth":"19m","value":13.19},{"day":147.3,"depth":"19m","value":10.4},{"day":148.1,"depth":"19m","value":8.73},{"day":149,"depth":"19m","value":10.07},{"day":150.2,"depth":"19m","value":12.86},{"day":151.4,"depth":"19m","value":13.19},{"day":152.5,"depth":"19m","value":14.86},{"day":153.7,"depth":"19m","value":14.97},{"day":154.9,"depth":"19m","value":15.42},{"day":155.7,"depth":"19m","value":15.98},{"day":156.6,"depth":"19m","value":15.31},{"day":157.8,"depth":"19m","value":15.36},{"day":159,"depth":"19m","value":15.7},{"day":159.8,"depth":"19m","value":15.73},{"day":160.7,"depth":"19m","value":17.37},{"day":161.7,"depth":"19m","value":17.15},{"day":162.5,"depth":"19m","value":16.54},{"day":163.3,"depth":"19m","value":14.08},{"day":164.5,"depth":"19m","value":12.08},{"day":165.4,"depth":"19m","value":12.47},{"day":166.6,"depth":"19m","value":12.74},{"day":167.5,"depth":"19m","value":12.63},{"day":168.7,"depth":"19m","value":13.25},{"day":169.5,"depth":"19m","value":13.25},{"day":170.3,"depth":"19m","value":13.97},{"day":171.3,"depth":"19m","value":13.08},{"day":172.5,"depth":"19m","value":11.18},{"day":173.6,"depth":"19m","value":11.3},{"day":174.6,"depth":"19m","value":11.85},{"day":175.4,"depth":"19m","value":14.42},{"day":176.6,"depth":"19m","value":15.31},{"day":177.5,"depth":"19m","value":13.47},{"day":178.3,"depth":"19m","value":13.02},{"day":179.5,"depth":"19m","value":15.42},{"day":180.4,"depth":"19m","value":15.64},{"day":181.6,"depth":"19m","value":16.48},{"day":183,"depth":"19m","value":15.92},{"day":184.5,"depth":"19m","value":15.17},{"day":185.9,"depth":"19m","value":15.73},{"day":187.1,"depth":"19m","value":15.7},{"day":188.6,"depth":"19m","value":15.59},{"day":190.6,"depth":"19m","value":15.59},{"day":191.8,"depth":"19m","value":15.73},{"day":192.6,"depth":"19m","value":15.64},{"day":194.5,"depth":"19m","value":16.2},{"day":195.6,"depth":"19m","value":16.98},{"day":196.8,"depth":"19m","value":17.15},{"day":198,"depth":"19m","value":16.81},{"day":198.8,"depth":"19m","value":16.87},{"day":199.6,"depth":"19m","value":16.76},{"day":200.6,"depth":"19m","value":13.52},{"day":201.5,"depth":"19m","value":10.96},{"day":202.3,"depth":"19m","value":15.98},{"day":203.5,"depth":"19m","value":16.15},{"day":204.3,"depth":"19m","value":17.2},{"day":205.5,"depth":"19m","value":17.87},{"day":206.4,"depth":"19m","value":18.43},{"day":207.6,"depth":"19m","value":18.88},{"day":208.8,"depth":"19m","value":18.54},{"day":210.2,"depth":"19m","value":17.32},{"day":211.3,"depth":"19m","value":16.81},{"day":212.5,"depth":"19m","value":17.76},{"day":213.5,"depth":"19m","value":17.71},{"day":214.6,"depth":"19m","value":18.32},{"day":216,"depth":"19m","value":18.04},{"day":217.2,"depth":"19m","value":17.82},{"day":217.9,"depth":"19m","value":17.59},{"day":218.7,"depth":"19m","value":17.82},{"day":219.6,"depth":"19m","value":16.37},{"day":220.5,"depth":"19m","value":16.26},{"day":221.4,"depth":"19m","value":15.64},{"day":222.6,"depth":"19m","value":15.7},{"day":223.4,"depth":"19m","value":15.2},{"day":224.6,"depth":"19m","value":14.36},{"day":225.5,"depth":"19m","value":15.64},{"day":226.7,"depth":"19m","value":15.64},{"day":227.8,"depth":"19m","value":14.42},{"day":228.7,"depth":"19m","value":12.86},{"day":229.6,"depth":"19m","value":11.24},{"day":230.4,"depth":"19m","value":11.24},{"day":231.6,"depth":"19m","value":14.53},{"day":232.8,"depth":"19m","value":16.42},{"day":233.6,"depth":"19m","value":15.89},{"day":234.5,"depth":"19m","value":15.89},{"day":235.7,"depth":"19m","value":16.15},{"day":236.9,"depth":"19m","value":16.22},{"day":237.7,"depth":"19m","value":16.22},{"day":238.7,"depth":"19m","value":17.09},{"day":239.5,"depth":"19m","value":16.54},{"day":240.6,"depth":"19m","value":14.75},{"day":241.8,"depth":"19m","value":15.42},{"day":242.8,"depth":"19m","value":14.97},{"day":243.9,"depth":"19m","value":13.9},{"day":245.1,"depth":"19m","value":12.8},{"day":245.7,"depth":"19m","value":12.3},{"day":246.5,"depth":"19m","value":12.52},{"day":247.4,"depth":"19m","value":16.09},{"day":248.6,"depth":"19m","value":17.32},{"day":249.5,"depth":"19m","value":17.29},{"day":250.3,"depth":"19m","value":20.66},{"day":251.5,"depth":"19m","value":21.16},{"day":252.3,"depth":"19m","value":19.38},{"day":253.5,"depth":"19m","value":19.66},{"day":255,"depth":"19m","value":19.43},{"day":256.2,"depth":"19m","value":19.04},{"day":257.6,"depth":"19m","value":18.6},{"day":258.5,"depth":"19m","value":19.1},{"day":259.7,"depth":"19m","value":21.0},{"day":260.7,"depth":"19m","value":22.5},{"day":261.5,"depth":"19m","value":22.39},{"day":262.6,"depth":"19m","value":20.21},{"day":263.8,"depth":"19m","value":18.32},{"day":264.8,"depth":"19m","value":16.54},{"day":265.6,"depth":"19m","value":16.76},{"day":266.5,"depth":"19m","value":17.76},{"day":267.3,"depth":"19m","value":15.64},{"day":268.5,"depth":"19m","value":12.86},{"day":269.4,"depth":"19m","value":12.86},{"day":270.3,"depth":"19m","value":14.03},{"day":272,"depth":"19m","value":13.97},{"day":273,"depth":"19m","value":14.75},{"day":274.1,"depth":"19m","value":14.36},{"day":275.3,"depth":"19m","value":15.98},{"day":276.7,"depth":"19m","value":18.65},{"day":277.6,"depth":"19m","value":14.31},{"day":278.7,"depth":"19m","value":9.85},{"day":279.6,"depth":"19m","value":9.46},{"day":280.8,"depth":"19m","value":10.96},{"day":281.6,"depth":"19m","value":11.18},{"day":282.6,"depth":"19m","value":12.52},{"day":283.5,"depth":"19m","value":12.69},{"day":284.7,"depth":"19m","value":14.75},{"day":285.8,"depth":"19m","value":16.54},{"day":286.7,"depth":"19m","value":16.98},{"day":287.8,"depth":"19m","value":16.98},{"day":288.7,"depth":"19m","value":13.97},{"day":289.6,"depth":"19m","value":13.69},{"day":290.5,"depth":"19m","value":17.15},{"day":291.6,"depth":"19m","value":17.59},{"day":292.5,"depth":"19m","value":16.09},{"day":293.7,"depth":"19m","value":14.86},{"day":294.5,"depth":"19m","value":14.69},{"day":295.7,"depth":"19m","value":13.97},{"day":296.6,"depth":"19m","value":14.25},{"day":297.8,"depth":"19m","value":12.47},{"day":299,"depth":"19m","value":13.19},{"day":300.1,"depth":"19m","value":14.08},{"day":301.3,"depth":"19m","value":15.42},{"day":302.5,"depth":"19m","value":16.87},{"day":303.7,"depth":"19m","value":17.37},{"day":304.8,"depth":"19m","value":17.43},{"day":306,"depth":"19m","value":17.76},{"day":306.8,"depth":"19m","value":17.82},{"day":307.8,"depth":"19m","value":17.43},{"day":308.6,"depth":"19m","value":17.04},{"day":309.5,"depth":"19m","value":17.43},{"day":310.7,"depth":"19m","value":17.59},{"day":311.6,"depth":"19m","value":15.98},{"day":312.4,"depth":"19m","value":13.19},{"day":313.1,"depth":"19m","value":11.18},{"day":313.8,"depth":"19m","value":10.4},{"day":314.6,"depth":"19m","value":14.08},{"day":315.4,"depth":"19m","value":10.96},{"day":316,"depth":"19m","value":9.46},{"day":316.5,"depth":"19m","value":12.35},{"day":317.5,"depth":"19m","value":10.96},{"day":318.7,"depth":"19m","value":10.12},{"day":319.5,"depth":"19m","value":8.51},{"day":320.6,"depth":"19m","value":8.34},{"day":322.4,"depth":"19m","value":8.23},{"day":323.6,"depth":"19m","value":10.4},{"day":324.5,"depth":"19m","value":20.33},{"day":325.6,"depth":"19m","value":21.0},{"day":326.5,"depth":"19m","value":15.87},{"day":327.7,"depth":"19m","value":15.84},{"day":328.5,"depth":"19m","value":18.76},{"day":329.7,"depth":"19m","value":18.82},{"day":330.6,"depth":"19m","value":18.32},{"day":331.5,"depth":"19m","value":12.08},{"day":332.7,"depth":"19m","value":8.73},{"day":334.1,"depth":"19m","value":8.4},{"day":335.5,"depth":"19m","value":8.23},{"day":336.5,"depth":"19m","value":12.08},{"day":337.6,"depth":"19m","value":18.37},{"day":338.8,"depth":"19m","value":17.98},{"day":340,"depth":"19m","value":17.32},{"day":341.1,"depth":"19m","value":15.42},{"day":342.3,"depth":"19m","value":13.19},{"day":343.2,"depth":"19m","value":12.35},{"day":344.1,"depth":"19m","value":14.75},{"day":344.9,"depth":"19m","value":14.58},{"day":345.8,"depth":"19m","value":15.87},{"day":347,"depth":"19m","value":17.2},{"day":348.2,"depth":"19m","value":17.71},{"day":349.3,"depth":"19m","value":18.1},{"day":350.5,"depth":"19m","value":18.76},{"day":351.7,"depth":"19m","value":19.77},{"day":353.1,"depth":"19m","value":19.99},{"day":354.6,"depth":"19m","value":20.1},{"day":355.8,"depth":"19m","value":21.27},{"day":356.7,"depth":"19m","value":21.22},{"day":357.5,"depth":"19m","value":21.61},{"day":358.7,"depth":"19m","value":21.78},{"day":359.9,"depth":"19m","value":21.94},{"day":360.7,"depth":"19m","value":21.44},{"day":361.6,"depth":"19m","value":18.99},{"day":362.5,"depth":"19m","value":16.65},{"day":363.2,"depth":"19m","value":17.87},{"day":364,"depth":"19m","value":19.32},{"day":364.8,"depth":"19m","value":21.0}
    ]
  },
  "vconcat": [
    {
      "title": {"text": "Water temperature", "fontSize": 27, "fontWeight": "normal", "font": "Liberation Sans", "color": "#000", "baseline": "alphabetic", "offset": -31, "anchor": "middle", "frame": "group"},
      "width": 1038,
      "height": 583,
      "data": {"name": "temperature"},
      "mark": {"type": "line"},
      "encoding": {
        "x": {
          "field": "day", "type": "quantitative",
          "scale": {"domain": [0, 365], "nice": false, "zero": false},
          "axis": {
            "values": [0, 30.4167, 60.8333, 91.25, 121.6667, 152.0833, 182.5, 212.9167, 243.3333, 273.75, 304.1667, 334.5833, 365],
            "labelExpr": "'1.' + (round(datum.value / 30.4167) % 12 + 1) + '.'",
            "tickSize": -15, "labelPadding": 32, "labelDx": 7, "labelFontSize": 18,
            "title": "2014", "titleFontSize": 28, "titlePadding": 21
          }
        },
        "y": {
          "field": "value", "type": "quantitative",
          "scale": {"domain": [0, 22], "nice": false},
          "axis": {
            "values": [0,1,2,3,4,5,6,7,8,9,10,11,12,13,14,15,16,17,18,19,20,21,22],
            "labelExpr": "datum.value % 5 == 0 ? datum.label : ''",
            "tickSize": -8, "labelPadding": 25,
            "title": "T [°C]", "titleFontSize": 22, "titlePadding": 14
          }
        },
        "color": {
          "field": "depth", "type": "nominal",
          "scale": {"domain": ["7m", "19m"], "range": ["#000000", "#707070"]},
          "legend": {"legendX": 16, "legendY": 15, "labelOffset": 17}
        },
        "strokeWidth": {
          "field": "depth", "type": "nominal",
          "scale": {"domain": ["7m", "19m"], "range": [2.6, 1]},
          "legend": {"legendX": 16, "legendY": 15, "labelOffset": 17}
        }
      }
    },
    {
      "title": {"text": "Salinity", "fontSize": 27, "fontWeight": "normal", "font": "Liberation Sans", "color": "#000", "baseline": "alphabetic", "offset": -31, "anchor": "middle", "frame": "group"},
      "width": 1039,
      "height": 585,
      "data": {"name": "salinity"},
      "layer": [
        {
          "mark": {"type": "line"},
          "encoding": {
            "x": {
              "field": "day", "type": "quantitative",
              "scale": {"domain": [0, 365], "nice": false, "zero": false},
              "axis": {
                "orient": "bottom",
                "values": [0, 30.4167, 60.8333, 91.25, 121.6667, 152.0833, 182.5, 212.9167, 243.3333, 273.75, 304.1667, 334.5833, 365],
                "labelExpr": "'1.' + (round(datum.value / 30.4167) % 12 + 1) + '.'",
                "tickSize": -14, "labelPadding": 25, "labelDx": 7, "labelFontSize": 18,
                "title": "2014", "titleFontSize": 28, "titlePadding": 27
              }
            },
            "y": {
              "field": "value", "type": "quantitative",
              "scale": {"domain": [6, 23], "nice": false, "zero": false},
              "axis": {
                "orient": "left",
                "values": [6,7,8,9,10,11,12,13,14,15,16,17,18,19,20,21,22,23],
                "tickSize": -8, "labelPadding": 25,
                "title": "S[g/kg]", "titleFontSize": 22, "titlePadding": 14
              }
            },
            "color": {
              "field": "depth", "type": "nominal",
              "scale": {"domain": ["7m", "19m"], "range": ["#000000", "#707070"]},
              "legend": {"legendX": 24, "legendY": 31, "labelOffset": 15}
            },
            "strokeWidth": {
              "field": "depth", "type": "nominal",
              "scale": {"domain": ["7m", "19m"], "range": [2.6, 1]},
              "legend": {"legendX": 24, "legendY": 31, "labelOffset": 15}
            }
          }
        },
        {
          "mark": {"type": "point", "opacity": 0},
          "encoding": {
            "x": {
              "field": "day", "type": "quantitative",
              "scale": {"domain": [0, 365], "nice": false, "zero": false},
              "axis": {
                "orient": "top",
                "values": [0, 30.4167, 60.8333, 91.25, 121.6667, 152.0833, 182.5, 212.9167, 243.3333, 273.75, 304.1667, 334.5833, 365],
                "labels": false, "tickSize": -13, "title": null
              }
            },
            "y": {
              "field": "value", "type": "quantitative",
              "scale": {"domain": [6, 23], "nice": false, "zero": false},
              "axis": {
                "orient": "right",
                "values": [6,7,8,9,10,11,12,13,14,15,16,17,18,19,20,21,22,23],
                "labels": false, "tickSize": -8, "title": null
              }
            }
          }
        }
      ],
      "resolve": {"axis": {"x": "independent", "y": "independent"}}
    }
  ],
  "resolve": {
    "scale": {"color": "independent", "strokeWidth": "independent"},
    "legend": {"color": "independent", "strokeWidth": "independent"}
  }
}
